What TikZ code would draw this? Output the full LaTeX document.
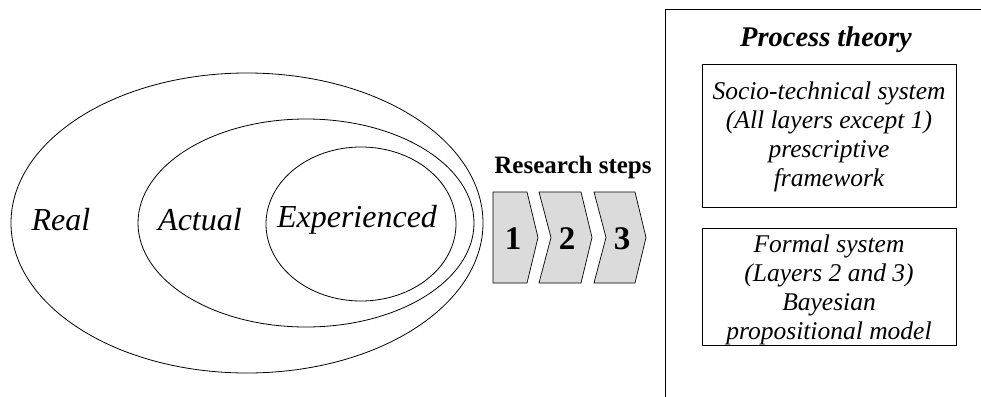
\documentclass[tikz,border=0pt]{standalone}
\usepackage{fontspec}
\setmainfont{Liberation Serif}
\usetikzlibrary{shapes.geometric}
\begin{document}
\begin{tikzpicture}[x=1pt,y=-1pt,
  line width=0.8pt,
  layer/.style={draw,ellipse,inner sep=0pt},
  setlabel/.style={font=\fontsize{32}{38}\selectfont\itshape},
  chevron/.style={draw,fill=gray!28,line width=0.7pt},
  stepnum/.style={font=\fontsize{33}{38}\selectfont\bfseries},
  theorybox/.style={draw,line width=0.7pt,minimum width=254pt},
  theorytext/.style={align=center,inner sep=0pt,
    font=\fontsize{25.5}{29}\selectfont\itshape}]
\useasboundingbox (0,0) rectangle (981,396);
\clip (0,0) rectangle (981,396);

% nested layers of reality
\node[layer,minimum width=472pt,minimum height=300pt] (real) at (247,223) {};
\node[layer,minimum width=336pt,minimum height=208pt] (actual) at (306,223) {};
\node[layer,minimum width=190pt,minimum height=154pt] (exp) at (361,224) {};
\node[setlabel] (reallbl) at (61,220) {Real};
\node[setlabel] (actuallbl) at (200,220) {Actual};
\node[setlabel] (explbl) at (357,220) {Experienced};

% research steps
\node[font=\fontsize{25}{30}\selectfont\bfseries] (steps) at (573,167) {Research steps};
\draw[chevron] (493,192) -- (527,192) -- (538,237.5) -- (527,283) -- (493,283) -- cycle;
\draw[chevron] (539,192) -- (581,192) -- (592,237.5) -- (581,283) -- (539,283) -- (551,237.5) -- cycle;
\draw[chevron] (594,192) -- (635,192) -- (646,237.5) -- (635,283) -- (594,283) -- (606,237.5) -- cycle;
\node[stepnum] (s1) at (513,239) {1};
\node[stepnum] (s2) at (567,239) {2};
\node[stepnum] (s3) at (622,239) {3};

% process theory panel
\draw[line width=0.7pt] (665,410) -- (665,9) -- (1000,9);
\node[font=\fontsize{28.5}{32}\selectfont\bfseries\itshape] (pt) at (826,40) {Process theory};
\node[theorybox,minimum height=143pt] (socio) at (829,136) {};
\node[theorytext] (sociotext) at (829,137)
  {Socio-technical system\\(All layers except 1)\\prescriptive\\framework};
\node[theorybox,minimum height=117pt] (formal) at (829,286.5) {};
\node[theorytext] (formaltext) at (829,289.5)
  {Formal system\\(Layers 2 and 3)\\Bayesian\\propositional model};
\end{tikzpicture}
\end{document}
